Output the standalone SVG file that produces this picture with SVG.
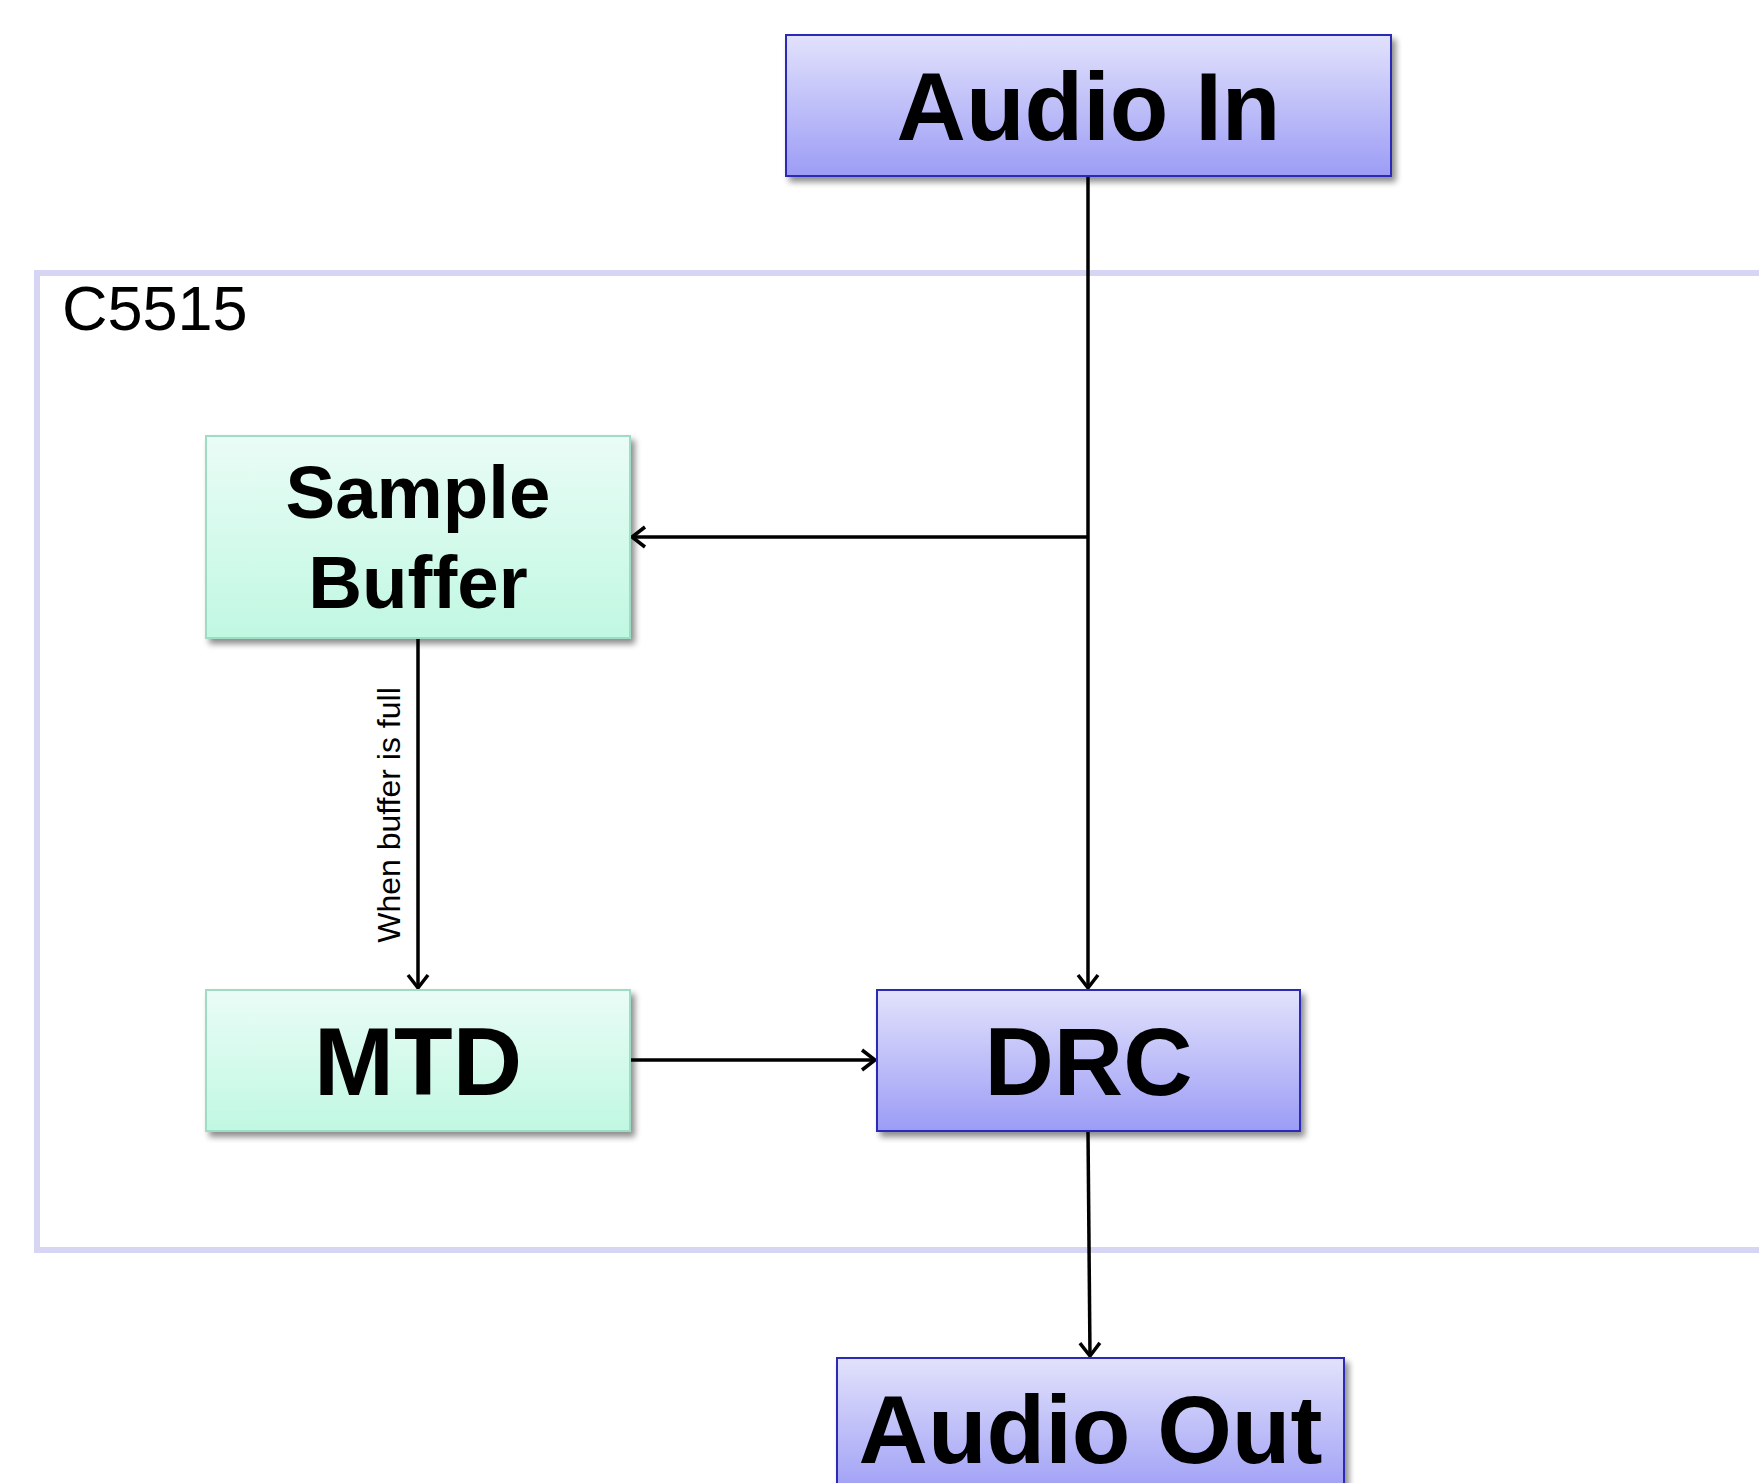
<svg xmlns="http://www.w3.org/2000/svg" width="1759" height="1483" viewBox="0 0 1759 1483">
  <style>
    .blue { fill: url(#gBlue); stroke: #2a2ab4; stroke-width: 2; }
    .green { fill: url(#gGreen); stroke: #9edcc4; stroke-width: 2; }
    .big { font-family: "Liberation Sans", Arial, sans-serif; font-weight: bold; font-size: 96px; fill: #000; text-anchor: middle; }
    .mid { font-family: "Liberation Sans", Arial, sans-serif; font-weight: bold; font-size: 74.5px; fill: #000; text-anchor: middle; }
    .conn { stroke: #000; stroke-width: 3.5; fill: none; marker-end: url(#arrow); }
    .lbl { font-family: "Liberation Sans", Arial, sans-serif; font-size: 32px; fill: #000; text-anchor: middle; }
  </style>
  <defs>
    <linearGradient id="gBlue" x1="0" y1="0" x2="0" y2="1">
      <stop offset="0" stop-color="#e2e2fc"/>
      <stop offset="1" stop-color="#9c9cf6"/>
    </linearGradient>
    <linearGradient id="gGreen" x1="0" y1="0" x2="0" y2="1">
      <stop offset="0" stop-color="#eafcf6"/>
      <stop offset="1" stop-color="#c0f8e2"/>
    </linearGradient>
    <filter id="shadow" x="-5%" y="-10%" width="115%" height="130%">
      <feGaussianBlur in="SourceAlpha" stdDeviation="3"/>
      <feOffset dx="4" dy="5" result="b"/>
      <feComponentTransfer><feFuncA type="linear" slope="0.45"/></feComponentTransfer>
      <feMerge><feMergeNode/><feMergeNode in="SourceGraphic"/></feMerge>
    </filter>
    <marker id="arrow" markerWidth="28" markerHeight="28" refX="18" refY="14" orient="auto" markerUnits="userSpaceOnUse">
      <path d="M5,4 L18,14 L5,24" fill="none" stroke="#000" stroke-width="3.5"/>
    </marker>
  </defs>
  <rect width="1759" height="1483" fill="#fff"/>

  <!-- C5515 processor boundary -->
  <g id="c5515">
    <path d="M1759,273 L37,273 L37,1250 L1759,1250" fill="none" stroke="#d6d6f4" stroke-width="6"/>
    <text x="62" y="330" font-family="Liberation Sans, Arial, sans-serif" font-size="63" fill="#000">C5515</text>
  </g>

  <!-- connectors -->
  <g id="connectors">
    <line class="conn" x1="1088" y1="176" x2="1088" y2="988"/>
    <line class="conn" x1="1088" y1="537" x2="632" y2="537"/>
    <line class="conn" x1="418" y1="638" x2="418" y2="988"/>
    <line class="conn" x1="630" y1="1060" x2="875" y2="1060"/>
    <line class="conn" x1="1088" y1="1131" x2="1090" y2="1356"/>
    <text class="lbl" transform="translate(400,815) rotate(-90)">When buffer is full</text>
  </g>

  <g id="audio-in" filter="url(#shadow)">
    <rect class="blue" x="786" y="35" width="605" height="141"/>
    <text class="big" x="1088.5" y="140">Audio In</text>
  </g>

  <g id="sample-buffer" filter="url(#shadow)">
    <rect class="green" x="206" y="436" width="424" height="202"/>
    <text class="mid" x="418" y="518">Sample</text>
    <text class="mid" x="418" y="608">Buffer</text>
  </g>

  <g id="mtd" filter="url(#shadow)">
    <rect class="green" x="206" y="990" width="424" height="141"/>
    <text class="big" x="418" y="1095">MTD</text>
  </g>

  <g id="drc" filter="url(#shadow)">
    <rect class="blue" x="877" y="990" width="423" height="141"/>
    <text class="big" x="1088.5" y="1095">DRC</text>
  </g>

  <g id="audio-out" filter="url(#shadow)">
    <rect class="blue" x="837" y="1358" width="507" height="141"/>
    <text class="big" x="1090.5" y="1463">Audio Out</text>
  </g>
</svg>
